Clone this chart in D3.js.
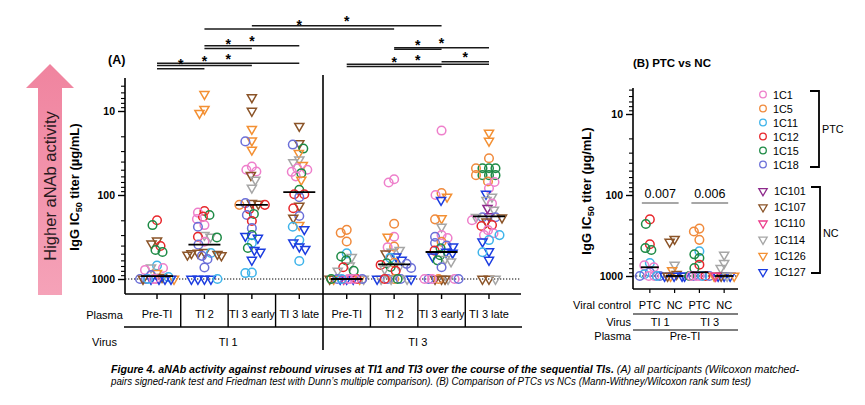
<!DOCTYPE html>
<html>
<head>
<meta charset="utf-8">
<script src="https://cdn.jsdelivr.net/npm/d3@7"></script>
<style>
  body { margin: 0; background: #fff; }
  svg { font-family: "Liberation Sans", Arial, sans-serif; }
</style>
</head>
<body>
<svg width="865" height="405"></svg>
<script>
// participants, PTC drawn as circles, NC as down triangles
const participants = ["1C1", "1C5", "1C11", "1C12", "1C15", "1C18", "1C101", "1C107", "1C110", "1C114", "1C126", "1C127"];
const ptcIds = ["1C1", "1C5", "1C11", "1C12", "1C15", "1C18"];
const ncIds = ["1C101", "1C107", "1C110", "1C114", "1C126", "1C127"];
const participantColors = ["#ee7fcb", "#f08a3c", "#3fb4ea", "#e8262b", "#1d8a45", "#6b6fd8",
                           "#8e2a8c", "#8b5428", "#ec3d8b", "#a6a6a6", "#f39033", "#1b3ce0"];

const plasmaLabels = ["Pre-TI", "TI 2", "TI 3 early", "TI 3 late"];
const virusLabels = ["TI 1", "TI 3"];
const yTickValues = [10, 100, 1000];

// IgG IC50 titers (ug/mL), [participant, value], one array per plasma/virus column
const ti1PreTI = [["1C12",200],["1C15",228],["1C107",350],["1C107",380],["1C12",405],["1C15",452],["1C15",477],
  ["1C11",690],["1C114",730],["1C1",740],["1C1",780],["1C126",850],["1C18",900],["1C107",950],["1C11",950],
  ["1C1",1000],["1C18",1000],["1C18",1000],["1C126",1000],["1C127",1000],["1C127",1000],["1C127",1000],
  ["1C127",1000],["1C107",1000],["1C1",1000],["1C11",1000]];
const ti1TI2 = [["1C126",6.3],["1C126",9.5],["1C126",10.6],["1C12",155],["1C1",162],["1C15",173],["1C12",181],
  ["1C1",193],["1C1",228],["1C18",239],["1C114",300],["1C12",314],["1C114",316],["1C15",320],["1C1",360],
  ["1C18",390],["1C107",480],["1C107",490],["1C11",490],["1C107",495],["1C107",505],["1C107",515],["1C107",525],
  ["1C18",530],["1C18",580],["1C18",730],["1C127",1000],["1C127",1000],["1C127",1000],["1C127",1000],["1C11",1000]];
const ti1TI3early = [["1C107",6.9],["1C107",10],["1C126",16.4],["1C126",22.5],["1C18",23],["1C126",29],["1C1",46],
  ["1C1",50],["1C1",52.5],["1C107",58],["1C114",66],["1C114",82],["1C107",125],["1C107",128],["1C5",131],
  ["1C12",131],["1C18",125],["1C12",147],["1C15",168],["1C18",173],["1C12",204],["1C18",248],["1C15",300],
  ["1C127",308],["1C127",325],["1C11",373],["1C15",428],["1C127",452],["1C127",477],["1C127",594],["1C11",840],["1C11",850]];
const ti1TI3late = [["1C107",15.1],["1C107",24.3],["1C18",25.1],["1C15",28],["1C126",31.8],["1C114",38],["1C114",41],
  ["1C126",44],["1C1",48],["1C1",50],["1C1",53],["1C15",55],["1C1",60],["1C126",66],["1C15",87],["1C12",98],
  ["1C12",98],["1C18",106],["1C107",135],["1C12",144],["1C18",178],["1C107",187],["1C126",228],["1C11",239],
  ["1C127",256],["1C11",344],["1C127",370],["1C127",412],["1C127",440],["1C11",610]];
const ti3PreTI = [["1C5",260],["1C5",282],["1C5",358],["1C11",495],["1C15",540],["1C114",550],["1C15",600],
  ["1C114",695],["1C12",725],["1C15",800],["1C114",800],["1C127",1000],["1C127",1000],["1C127",1000],["1C126",1000],
  ["1C126",1000],["1C107",1000],["1C114",1000],["1C110",1000],["1C1",1000],["1C18",1000],["1C12",1000],["1C15",1000],
  ["1C18",1000],["1C1",1000],["1C11",1000],["1C1",1000]];
const ti3TI2 = [["1C1",65],["1C1",71],["1C5",220],["1C1",314],["1C126",315],["1C5",412],["1C1",418],["1C114",452],
  ["1C114",477],["1C107",500],["1C127",542],["1C11",560],["1C127",594],["1C5",640],["1C15",650],["1C18",660],
  ["1C12",680],["1C114",700],["1C15",720],["1C18",740],["1C114",760],["1C12",800],["1C5",1000],["1C18",1000],
  ["1C18",1000],["1C114",1000],["1C114",1000],["1C127",1000],["1C127",1000],["1C114",1000],["1C15",1000],["1C12",1000]];
const ti3TI3early = [["1C1",17.1],["1C5",95],["1C1",100],["1C126",105],["1C127",115],["1C126",190],["1C5",195],
  ["1C114",239],["1C1",300],["1C18",314],["1C1",325],["1C5",360],["1C18",373],["1C18",400],["1C127",412],["1C15",430],
  ["1C12",460],["1C127",477],["1C127",490],["1C15",520],["1C127",540],["1C114",580],["1C15",600],["1C114",620],
  ["1C18",725],["1C107",1000],["1C107",1000],["1C114",1000],["1C18",1000],["1C1",1000],["1C1",1000],["1C18",1000],
  ["1C5",1000],["1C107",1000],["1C1",1000]];
const ti3TI3late = [["1C126",18.2],["1C126",22.7],["1C5",36.5],["1C15",48],["1C15",48],["1C15",48],["1C5",48],
  ["1C15",58],["1C15",58],["1C15",58],["1C5",58],["1C5",69],["1C1",70],["1C1",83],["1C127",97],["1C114",105],
  ["1C114",115],["1C1",126],["1C101",143],["1C114",150],["1C101",180],["1C18",184],["1C18",184],["1C107",186],
  ["1C114",184],["1C1",200],["1C107",208],["1C12",228],["1C12",234],["1C1",262],["1C1",285],["1C1",300],["1C11",344],
  ["1C11",300],["1C127",360],["1C127",470],["1C11",480],["1C127",594],["1C107",1000],["1C107",1000],["1C114",1000]];

// significance comparisons in panel A (column indexes), all "*"
const sigPairs = [[1,5],[2,6],[1,3],[1,2],[0,3],[0,2],[0,1],[5,7],[5,6],[4,7],[4,6],[6,7]];
// panel B: PTC vs NC p values
const bLabels = ["PTC", "NC", "PTC", "NC"];
const pValuesB = ["0.007", "0.006"];

const caption1Bold = "Figure 4. aNAb activity against rebound viruses at TI1 and TI3 over the course of the sequential TIs.";
const caption1 = " (A) all participants (Wilcoxon matched-";
const caption2 = "pairs signed-rank test and Friedman test with Dunn\u2019s multiple comparison). (B) Comparison of PTCs vs NCs (Mann-Withney/Wilcoxon rank sum test)";

// ---------------------------------------------------------------
const svg = d3.select("svg");
const color = d3.scaleOrdinal().domain(participants).range(participantColors);
const isPTC = new Set(ptcIds);
const colsA = [ti1PreTI, ti1TI2, ti1TI3early, ti1TI3late, ti3PreTI, ti3TI2, ti3TI3early, ti3TI3late];

const xA = d3.scalePoint().domain(d3.range(8)).range([125, 521]).padding(0.675);
const yA = d3.scaleLog().domain([1000, 10]).range([279, 111]);
const xB = d3.scalePoint().domain(d3.range(4)).range([633, 741]).padding(0.68);
const yB = d3.scaleLog().domain([1000, 10]).range([276, 114]);

const tri = d3.symbol().type(d3.symbolTriangle).size(36)();
const triSmall = d3.symbol().type(d3.symbolTriangle).size(30)();

// simple beeswarm: each point takes the x offset with least overlap
function swarm(points, cx, y, D, maxW) {
  const placed = [];
  const order = d3.range(points.length).sort((a, b) => points[a][1] - points[b][1] || a - b);
  const xs = new Array(points.length);
  order.forEach(i => {
    const py = y(points[i][1]);
    let best = 0, bestCost = Infinity;
    for (let x = -maxW; x <= maxW + 1e-9; x += 0.5) {
      let c = 0.01 * x * x;
      placed.forEach(q => {
        const d = Math.hypot(q.x - x, q.y - py);
        if (d < D) c += (D - d) * (D - d);
      });
      if (c < bestCost - 1e-9) { bestCost = c; best = x; }
    }
    placed.push({x: best, y: py});
    xs[i] = cx + best;
  });
  return points.map((p, i) => ({id: p[0], v: p[1], x: xs[i], y: y(p[1])}));
}

function drawPoints(g, pts, r) {
  g.selectAll(null).data(pts).enter().each(function(d) {
    const s = d3.select(this);
    if (isPTC.has(d.id)) {
      s.append("circle").attr("cx", d.x).attr("cy", d.y).attr("r", r)
        .attr("fill", "none").attr("stroke", color(d.id)).attr("stroke-width", 1.5);
    } else {
      s.append("path").attr("d", tri)
        .attr("transform", `translate(${d.x},${d.y}) rotate(180)`)
        .attr("fill", "none").attr("stroke", color(d.id)).attr("stroke-width", 1.5);
    }
  });
}

function minorTicks(y, top, bottom) {
  const out = [];
  [1, 10, 100, 1000].forEach(b => {
    for (let k = 2; k <= 9; k++) {
      const v = k * b, py = y(v);
      if (py >= top && py <= bottom) out.push(v);
    }
  });
  return out;
}

function yAxis(g, y, x0, top, bottom) {
  g.append("line").attr("x1", x0).attr("x2", x0).attr("y1", top).attr("y2", bottom)
    .attr("stroke", "#000").attr("stroke-width", 1.6);
  const major = g.append("g").attr("transform", `translate(${x0},0)`)
    .call(d3.axisLeft(y).tickValues(yTickValues).tickSize(7).tickFormat(d3.format("d")));
  major.select(".domain").remove();
  major.selectAll("line").attr("stroke-width", 1.4);
  major.selectAll("text").attr("font-size", 10.5).attr("font-weight", "bold")
    .attr("font-family", "Liberation Sans, Arial, sans-serif").attr("fill", "#000");
  const minor = g.append("g").attr("transform", `translate(${x0},0)`)
    .call(d3.axisLeft(y).tickValues(minorTicks(y, top, bottom)).tickSize(4).tickFormat(""));
  minor.select(".domain").remove();
  minor.selectAll("line").attr("stroke-width", 1.1);
}

function yLabel(x, yc) {
  const t = svg.append("text").attr("transform", `translate(${x},${yc}) rotate(-90)`)
    .attr("text-anchor", "middle").attr("font-weight", "bold").attr("font-size", 13);
  t.append("tspan").text("IgG IC");
  t.append("tspan").attr("font-size", 9).attr("dy", 3).text("50");
  t.append("tspan").attr("dy", -3).text(" titer (\u00b5g/mL)");
}

// ---------- arrow ----------
const defs = svg.append("defs");
const grad = defs.append("linearGradient").attr("id", "arrowGrad").attr("x1", 0).attr("x2", 0).attr("y1", 0).attr("y2", 1);
grad.append("stop").attr("offset", "0%").attr("stop-color", "#f0849f");
grad.append("stop").attr("offset", "100%").attr("stop-color", "#f5a2b8");
svg.append("path")
  .attr("d", "M50,64 L74,88 L62,88 L62,295 L38,295 L38,88 L26,88 Z")
  .attr("fill", "url(#arrowGrad)");
svg.append("text").attr("transform", "translate(50,186) rotate(-90)")
  .attr("text-anchor", "middle").attr("dominant-baseline", "central")
  .attr("font-size", 16.5).attr("fill", "#2a1a1e").text("Higher aNAb activity");

// ---------- panel A ----------
svg.append("text").attr("x", 108).attr("y", 64).attr("font-size", 12.5).attr("font-weight", "bold").text("(A)");
yLabel(79, 187);
const gA = svg.append("g");
yAxis(gA, yA, 125, 78, 294);

// x axis + ticks
gA.append("line").attr("x1", 125).attr("x2", 521).attr("y1", 294).attr("y2", 294)
  .attr("stroke", "#000").attr("stroke-width", 1.6);
gA.selectAll(".xt").data(d3.range(8)).enter().append("line")
  .attr("x1", d => xA(d)).attr("x2", d => xA(d)).attr("y1", 294).attr("y2", 299)
  .attr("stroke", "#000").attr("stroke-width", 1.4);

// detection limit
gA.append("line").attr("x1", 125).attr("x2", 521).attr("y1", yA(1000)).attr("y2", yA(1000))
  .attr("stroke", "#000").attr("stroke-width", 1).attr("stroke-dasharray", "1.3,1.7");

// divider between TI1 and TI3
const divX = (xA(3) + xA(4)) / 2;
gA.append("line").attr("x1", divX).attr("x2", divX).attr("y1", 75).attr("y2", 350)
  .attr("stroke", "#000").attr("stroke-width", 1.6);

// points
colsA.forEach((col, i) => {
  const pts = swarm(col, xA(i), yA, 6.5, 17);
  drawPoints(gA.append("g"), pts, 4.3);
});
// medians
colsA.forEach((col, i) => {
  const m = d3.median(col, d => d[1]);
  gA.append("line").attr("x1", xA(i) - 16).attr("x2", xA(i) + 16).attr("y1", yA(m)).attr("y2", yA(m))
    .attr("stroke", "#000").attr("stroke-width", 1.8);
});

// table under panel A
const tA = svg.append("g").attr("font-size", 11).attr("text-anchor", "middle");
d3.range(8).forEach(i => {
  tA.append("text").attr("x", xA(i)).attr("y", 318).text(plasmaLabels[i % 4]);
  if (i < 7 && i !== 3) {
    const sx = (xA(i) + xA(i + 1)) / 2;
    tA.append("line").attr("x1", sx).attr("x2", sx).attr("y1", 294).attr("y2", 327)
      .attr("stroke", "#000").attr("stroke-width", 1.4);
  }
});
tA.append("line").attr("x1", 124).attr("x2", 522).attr("y1", 327).attr("y2", 327)
  .attr("stroke", "#000").attr("stroke-width", 1.4);
virusLabels.forEach((v, k) => {
  tA.append("text").attr("x", (xA(4 * k) + xA(4 * k + 3)) / 2).attr("y", 345.5).text(v);
});
tA.append("text").attr("x", 104.5).attr("y", 318.5).text("Plasma");
tA.append("text").attr("x", 104.5).attr("y", 345.5).text("Virus");

// significance bars
const sigBarY = [29, 25.7, 45.7, 48.4, 63.3, 65.5, 68.7, 47.7, 49.2, 64.3, 66.6, 61.7];
sigPairs.forEach((p, k) => {
  const x1 = xA(p[0]), x2 = xA(p[1]), by = sigBarY[k];
  svg.append("line").attr("x1", x1).attr("x2", x2).attr("y1", by).attr("y2", by)
    .attr("stroke", "#1a1a1a").attr("stroke-width", 1.5);
  svg.append("text").attr("x", (x1 + x2) / 2).attr("y", by + 0.5)
    .attr("text-anchor", "middle").attr("font-size", 14).attr("font-weight", "bold").text("*");
});

// ---------- panel B ----------
svg.append("text").attr("x", 633).attr("y", 67).attr("font-size", 11.5).attr("font-weight", "bold")
  .text("(B) PTC vs NC");
yLabel(591, 191);
const gB = svg.append("g");
yAxis(gB, yB, 633, 88, 289);
gB.append("line").attr("x1", 633).attr("x2", 738).attr("y1", 289).attr("y2", 289)
  .attr("stroke", "#000").attr("stroke-width", 1.6);
gB.selectAll(".xt").data(d3.range(4)).enter().append("line")
  .attr("x1", d => xB(d)).attr("x2", d => xB(d)).attr("y1", 289).attr("y2", 293)
  .attr("stroke", "#000").attr("stroke-width", 1.2);
gB.append("line").attr("x1", 633).attr("x2", 738).attr("y1", yB(1000)).attr("y2", yB(1000))
  .attr("stroke", "#000").attr("stroke-width", 1).attr("stroke-dasharray", "1.3,1.7");

// panel B columns are the Pre-TI plasma columns split by PTC / NC
const colsB = [
  ti1PreTI.filter(d => isPTC.has(d[0])), ti1PreTI.filter(d => !isPTC.has(d[0])),
  ti3PreTI.filter(d => isPTC.has(d[0])), ti3PreTI.filter(d => !isPTC.has(d[0]))
];
colsB.forEach((col, i) => {
  drawPoints(gB.append("g"), swarm(col, xB(i), yB, 6, 10), 4.3);
});
colsB.forEach((col, i) => {
  const m = d3.median(col, d => d[1]);
  gB.append("line").attr("x1", xB(i) - 9).attr("x2", xB(i) + 9).attr("y1", yB(m)).attr("y2", yB(m))
    .attr("stroke", "#000").attr("stroke-width", 1.8);
});
pValuesB.forEach((p, k) => {
  const x1 = xB(2 * k) - 8, x2 = xB(2 * k + 1) + 4;
  gB.append("line").attr("x1", x1).attr("x2", x2).attr("y1", 203).attr("y2", 203)
    .attr("stroke", "#8a8a8a").attr("stroke-width", 1.6);
  gB.append("text").attr("x", (x1 + x2) / 2).attr("y", 197.5).attr("text-anchor", "middle")
    .attr("font-size", 12.5).text(p);
});

// table under panel B
const tB = svg.append("g").attr("font-size", 11);
bLabels.forEach((l, i) => {
  tB.append("text").attr("x", xB(i)).attr("y", 309).attr("text-anchor", "middle").text(l);
});
tB.append("line").attr("x1", 633).attr("x2", 738).attr("y1", 314).attr("y2", 314).attr("stroke", "#000").attr("stroke-width", 1.2);
virusLabels.forEach((v, k) => {
  tB.append("text").attr("x", (xB(2 * k) + xB(2 * k + 1)) / 2 - 2).attr("y", 326).attr("text-anchor", "middle").text(v);
});
tB.append("line").attr("x1", 633).attr("x2", 738).attr("y1", 330).attr("y2", 330).attr("stroke", "#000").attr("stroke-width", 1.2);
tB.append("text").attr("x", 685).attr("y", 340).attr("text-anchor", "middle").text(plasmaLabels[0]);
[["Viral control", 309], ["Virus", 326], ["Plasma", 340]].forEach(([t, y]) => {
  tB.append("text").attr("x", 631).attr("y", y).attr("text-anchor", "end").text(t);
});

// ---------- legend ----------
const lg = svg.append("g").attr("font-size", 10.8);
ptcIds.forEach((id, i) => {
  const y = 94.5 + 14 * i;
  lg.append("circle").attr("cx", 763).attr("cy", y).attr("r", 3.3).attr("fill", "none")
    .attr("stroke", color(id)).attr("stroke-width", 1.3);
  lg.append("text").attr("x", 773).attr("y", y + 4).text(id);
});
ncIds.forEach((id, i) => {
  const y = 191 + 16.2 * i;
  lg.append("path").attr("d", triSmall).attr("transform", `translate(763,${y}) rotate(180)`)
    .attr("fill", "none").attr("stroke", color(id)).attr("stroke-width", 1.3);
  lg.append("text").attr("x", 774).attr("y", y + 4).text(id);
});
function bracket(x, y1, y2, label, ly) {
  lg.append("path").attr("d", `M${x - 9},${y1} H${x} V${y2} H${x - 9}`)
    .attr("fill", "none").attr("stroke", "#000").attr("stroke-width", 1.8);
  lg.append("text").attr("x", x + 3).attr("y", ly + 4).text(label);
}
bracket(819, 91, 167, "PTC", 129);
bracket(820, 187, 273, "NC", 233);

// ---------- caption ----------
const cap = svg.append("g").attr("font-family", "Liberation Sans Narrow, Arial Narrow, Liberation Sans, sans-serif")
  .attr("font-size", 10).attr("font-style", "italic");
const c1 = cap.append("text").attr("x", 111).attr("y", 372.5).attr("textLength", 688).attr("lengthAdjust", "spacingAndGlyphs");
c1.append("tspan").attr("font-weight", "bold").text(caption1Bold);
c1.append("tspan").text(caption1);
cap.append("text").attr("x", 111).attr("y", 384.5).attr("textLength", 640).attr("lengthAdjust", "spacingAndGlyphs")
  .text(caption2);
</script>
</body>
</html>
